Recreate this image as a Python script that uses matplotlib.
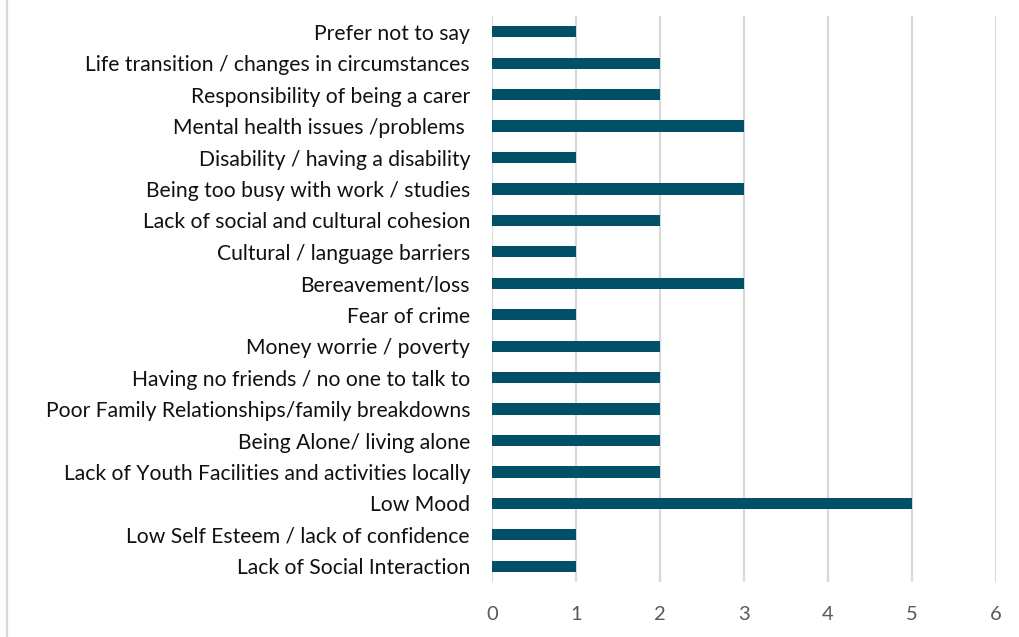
import matplotlib
matplotlib.use("Agg")
import matplotlib.pyplot as plt
from matplotlib.lines import Line2D

categories = [
    "Prefer not to say",
    "Life transition / changes in circumstances",
    "Responsibility of being a carer",
    "Mental health issues /problems ",
    "Disability / having a disability",
    "Being too busy with work / studies",
    "Lack of social and cultural cohesion",
    "Cultural / language barriers",
    "Bereavement/loss",
    "Fear of crime",
    "Money worrie / poverty",
    "Having no friends / no one to talk to",
    "Poor Family Relationships/family breakdowns",
    "Being Alone/ living alone",
    "Lack of Youth Facilities and activities locally",
    "Low Mood",
    "Low Self Esteem / lack of confidence",
    "Lack of Social Interaction",
]
counts = [1, 2, 2, 3, 1, 3, 2, 1, 3, 1, 2, 2, 2, 2, 2, 5, 1, 1]
x_ticks = [0, 1, 2, 3, 4, 5, 6]

plt.rcParams["font.family"] = ["Lato", "DejaVu Sans"]

fig = plt.figure(figsize=(10.19, 6.37), dpi=100)
ax = fig.add_axes([492.3 / 1019, 1 - 582 / 637, (995.7 - 492.3) / 1019, (582 - 16) / 637])

y = list(range(len(categories)))
ax.barh(y, counts, height=0.36, color="#005068", zorder=3)
ax.set_ylim(len(categories) - 0.5, -0.5)
ax.set_xlim(0, 6)
ax.set_xticks(x_ticks)
ax.set_yticks(y)
ax.set_yticklabels(categories, fontsize=15.2, color="#111111")
ax.tick_params(axis="y", length=0, pad=16)
ax.tick_params(axis="x", length=0, pad=17, labelsize=14.5, labelcolor="#595959")
ax.grid(axis="x", color="#d9d9d9", linewidth=1.6, zorder=0)
for s in ax.spines.values():
    s.set_visible(False)

# thin frame line along the left edge of the figure
fig.add_artist(Line2D([6.5 / 1019, 6.5 / 1019], [0, 1], transform=fig.transFigure,
                      color="#d9d9d9", linewidth=1.6))

fig.savefig("out.png", dpi=100)
